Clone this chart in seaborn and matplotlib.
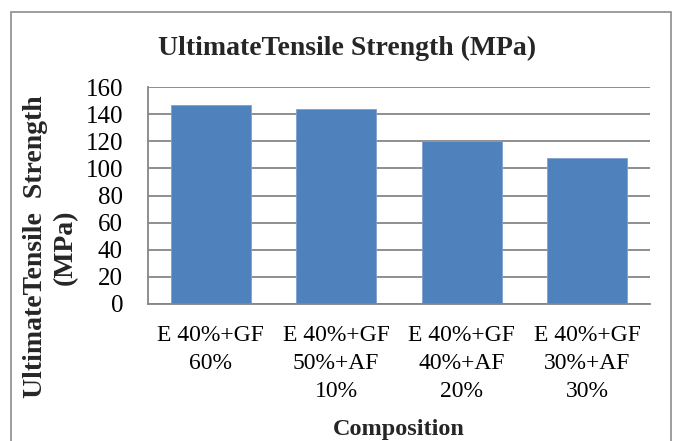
import matplotlib
matplotlib.use("Agg")
import matplotlib.pyplot as plt
import pandas as pd
import seaborn as sns
from matplotlib.patches import Rectangle

compositions = [
    "E 40%+GF\n60%",
    "E 40%+GF\n50%+AF\n10%",
    "E 40%+GF\n40%+AF\n20%",
    "E 40%+GF\n30%+AF\n30%",
]
uts_mpa = [147, 144, 120, 108]
y_ticks = [0, 20, 40, 60, 80, 100, 120, 140, 160]

BAR_COLOR = "#4f81bd"
GRID_COLOR = "#868686"
SERIF = ["Liberation Serif", "DejaVu Serif"]

sns.set_theme(style="white")
plt.rcParams["font.family"] = SERIF

df = pd.DataFrame({"composition": compositions, "uts": uts_mpa})

W, H = 673, 441
fig = plt.figure(figsize=(W / 100, H / 100), dpi=100)
# plot area in pixels: left 148, right 650, top 87, bottom 304
ax = fig.add_axes([148 / W, 1 - 304 / H, (650 - 148) / W, (304 - 87) / H])

sns.barplot(
    data=df,
    x="composition",
    y="uts",
    color=BAR_COLOR,
    saturation=1,
    width=0.64,
    edgecolor="#7f9fcf",
    linewidth=0.6,
    ax=ax,
)

ax.set_ylim(0, 160)
ax.set_yticks(y_ticks)
ax.set_xlim(-0.5, len(compositions) - 0.5)
ax.yaxis.grid(True, color=GRID_COLOR, linewidth=1.3)
ax.set_axisbelow(True)

for side in ["top", "right"]:
    ax.spines[side].set_visible(False)
for side in ["left", "bottom"]:
    ax.spines[side].set_color(GRID_COLOR)
    ax.spines[side].set_linewidth(1.3)

ax.tick_params(axis="y", labelsize=18, length=0, pad=18, colors="black")
ax.tick_params(axis="x", labelsize=17, length=0, pad=15, colors="black")
for lab in ax.get_xticklabels():
    lab.set_linespacing(1.45)

ax.set_xlabel("Composition", fontsize=17.5, fontweight="bold")
ax.xaxis.set_label_coords(0.5, -(430 - 304) / (304 - 87))
ax.xaxis.label.set_va("center")
ax.set_ylabel("UltimateTensile  Strength\n(MPa)", fontsize=20, fontweight="bold",
              linespacing=1.25, va="center")
ax.yaxis.set_label_coords((50 - 148) / (650 - 148), (304 - 247) / (304 - 87))

fig.text(347 / W, 1 - 48 / H, "UltimateTensile Strength (MPa)", ha="center",
         va="center", fontsize=20, fontweight="bold")

# chart border
fig.patches.append(Rectangle((11.5 / W, -0.05), (670.5 - 11.5) / W, 1 - 12 / H + 0.05,
                             transform=fig.transFigure, fill=False,
                             edgecolor="#8c8c8c", linewidth=1.2))

fig.savefig("out.png", dpi=100)
